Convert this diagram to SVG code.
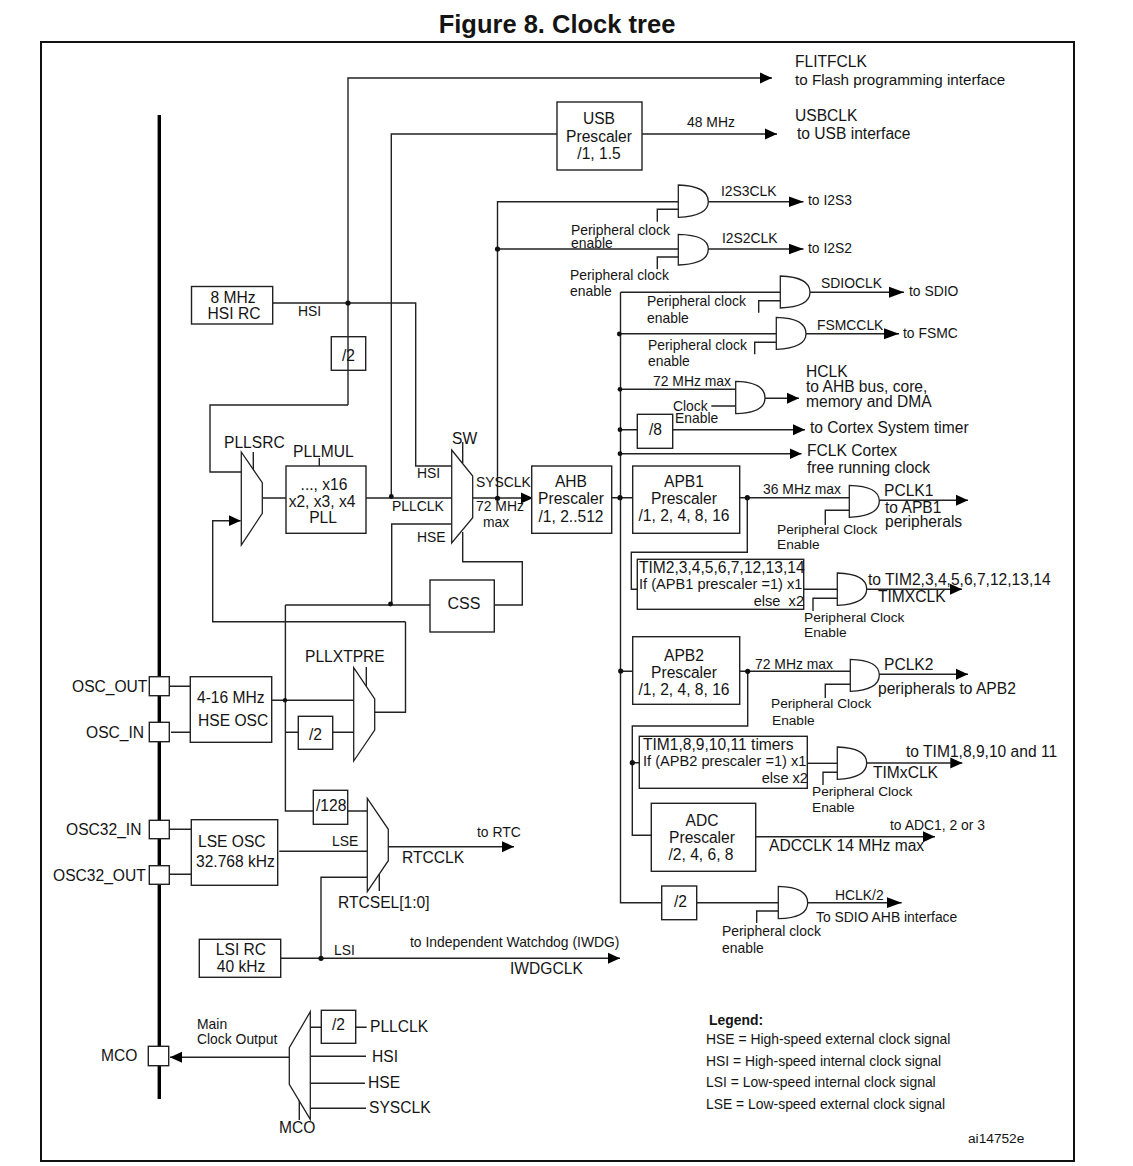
<svg xmlns="http://www.w3.org/2000/svg" width="1133" height="1166" viewBox="0 0 1133 1166">
<style>
text{font-family:"Liberation Sans",Arial,sans-serif;font-size:13.9px;fill:#141414}
.s13{font-size:13.7px}.s14{font-size:14.6px}.s15{font-size:15.6px}.s16{font-size:16px}
.m{text-anchor:middle}
.b{fill:#fff;stroke:#222;stroke-width:1.4}
.g{fill:#fff;stroke:#222;stroke-width:1.3}
.w{fill:none;stroke:#222;stroke-width:1.4}
.a{marker-end:url(#arr)}
.l{marker-end:url(#arl)}
.d{fill:#111}
</style>
<defs>
<marker id="arr" markerUnits="userSpaceOnUse" markerWidth="13" markerHeight="13" refX="12" refY="6.5" orient="auto"><path d="M0 1L12 6.5L0 12Z" fill="#000"/></marker>
<marker id="arl" markerUnits="userSpaceOnUse" markerWidth="16" markerHeight="13" refX="15" refY="6.5" orient="auto"><path d="M0 1L15 6.5L0 12Z" fill="#000"/></marker>
</defs>
<rect width="1133" height="1166" fill="#fff"/>
<text x="557" y="33" class="m" style="font-size:25.5px;font-weight:bold">Figure 8. Clock tree</text>
<rect x="41" y="42" width="1033" height="1119" fill="none" stroke="#111" stroke-width="2"/>
<g id="connectors">
<path class="w" style="stroke:#000;stroke-width:3.4" d="M159.3 115V1099"/>
<path class="w a" d="M348 405V78H772"/>
<path class="w a" d="M391.3 497V134H557M642 134H777"/>
<path class="w" d="M272.7 303H415.7V466H451.5"/>
<path class="w" d="M348 405H210V472H241.3"/>
<path class="w a" d="M405.5 621.7H212.7V520.7H240.7"/>
<path class="w" d="M405.5 621.7V712.3H375"/>
<path class="w" d="M262.3 498H286M366 498H451.7"/>
<path class="w" d="M253.3 452V470M319.3 458V466M462.7 442V463M366.3 667V690M379.3 873V891"/>
<path class="w" d="M451.7 524H391.7V605M285.4 605H430M494.3 605H522.3V561.7H462.7V532"/>
<path class="w a" d="M473 498H533"/>
<path class="w" d="M497.5 498V201.7H678.3M497.5 249H678.3"/>
<path class="w l" d="M708 201.7H803.5"/>
<path class="w l" d="M708 249H803.5"/>
<path class="w" d="M678.3 209.3H657.3V221.7M678.3 257H657.3V269.3"/>
<path class="w" d="M620.5 292.3V902.7H661.7M780 292.3H620.5M776 333.7H620.5M735.7 389.3H620.5M637.3 429.7H620.5M611.7 497.7H632.7M620.5 671.3H632.7"/>
<path class="w l" d="M810 292.3H904"/>
<path class="w l" d="M806 333.7H899"/>
<path class="w a" d="M765 398.3H799"/>
<path class="w a" d="M672.7 429.7H805"/>
<path class="w a" d="M620.5 453.7H801.5"/>
<path class="w" d="M780.3 300.7H758.7V312.7M776.3 342.3H754.7V354.3M711.3 406H735.7"/>
<path class="w" d="M739.7 497.7H849.3M747.3 497.7V552.3H631.3V589.3H637.3"/>
<path class="w a" d="M879 500.3H968"/>
<path class="w" d="M849.3 510.3H825.3V525"/>
<path class="w" d="M803.7 589.3H837.3"/>
<path class="w a" d="M866.7 589.3H962"/>
<path class="w" d="M837.3 598.3H813V611"/>
<path class="w" d="M739.7 671.3H850.3M747.7 671.3V726H632.3V835.3H651.3M632.3 762.7H640"/>
<path class="w a" d="M879 674.3H968"/>
<path class="w" d="M850.3 684.3H825.3V698"/>
<path class="w" d="M807.3 763.3H837.3"/>
<path class="w a" d="M866.7 763H962.3"/>
<path class="w" d="M837.3 772.3H823V785"/>
<path class="w a" d="M755.7 836.7H935"/>
<path class="w" d="M696.7 902.7H778.3"/>
<path class="w l" d="M807.7 902.7H901.7"/>
<path class="w" d="M778.3 911H756.7V923"/>
<path class="w" d="M169.3 686.3H190.3M171 732.3H191M169.3 829.3H191.3M169.3 874.3H191.3"/>
<path class="w" d="M271.7 700.3H355M285.4 605V811H313.3M285.4 732.3H298.3M332.7 732.3H355"/>
<path class="w" d="M347.7 811H367.3M279.3 851.3H367.3M367.3 877.3H321V958.3"/>
<path class="w a" d="M388.3 846.7H514"/>
<path class="w a" d="M280.7 958.3H620"/>
<path class="w" d="M310.3 1027.3H321.3M355.7 1027.3H366.7M310.3 1056.3H366M310.3 1083.3H365M310.3 1108.3H366M299.3 1100V1120"/>
<path class="w a" d="M289 1057.3H170"/>
</g>
<g id="junctions" class="d">
<circle cx="348" cy="303" r="2.6"/><circle cx="391.3" cy="496.5" r="2.4"/><circle cx="390.5" cy="604" r="2.4"/>
<circle cx="497.5" cy="498.3" r="2.6"/><circle cx="497.5" cy="249" r="2.6"/>
<circle cx="619.3" cy="334" r="2.4"/><circle cx="620" cy="389.3" r="2.4"/><circle cx="620" cy="429.7" r="2.4"/><circle cx="620" cy="453.7" r="2.4"/><circle cx="620" cy="497.7" r="2.6"/><circle cx="620.7" cy="671" r="2.6"/>
<circle cx="747.3" cy="497.7" r="2.6"/><circle cx="747.7" cy="671.3" r="2.6"/><circle cx="632.3" cy="762.7" r="2.6"/>
<circle cx="285" cy="700.3" r="2.2"/><circle cx="321" cy="958.3" r="2.6"/>
</g>
<g id="hsi-rc"><rect class="b" x="191.5" y="286.5" width="81.2" height="37.5"/><text class="s15 m" x="233" y="303">8 MHz</text><text class="s15 m" x="234" y="319">HSI RC</text></g>
<text x="298" y="316">HSI</text>
<g id="div2-hsi"><rect class="w" x="331.3" y="336.7" width="34.4" height="33.6"/><text class="s15" x="342" y="361">/2</text></g>
<g id="pllsrc"><path class="g" d="M241.3 452L262.3 482.7V513.3L241.3 545Z"/><text class="s15" x="224" y="448">PLLSRC</text></g>
<g id="pll"><rect class="b" x="286" y="466" width="80" height="67.3"/><text class="s15 m" x="324" y="490">..., x16</text><text class="s15 m" x="322" y="507">x2, x3, x4</text><text class="s15 m" x="323" y="523">PLL</text><text class="s15" x="293" y="457">PLLMUL</text></g>
<g id="sw"><path class="g" d="M451.7 450L472.7 476V517.7L451.7 543Z"/><text class="s15" x="452" y="444">SW</text><text x="417" y="478">HSI</text><text x="392" y="511">PLLCLK</text><text x="417" y="542">HSE</text></g>
<text x="476" y="487">SYSCLK</text><text x="476" y="511">72 MHz</text><text x="483" y="527">max</text>
<g id="ahb"><rect class="b" x="531.7" y="466" width="80" height="67.3"/><text class="s15 m" x="571" y="487">AHB</text><text class="s15 m" x="571" y="504">Prescaler</text><text class="s15 m" x="571" y="522">/1, 2..512</text></g>
<g id="css"><rect class="b" x="430" y="580" width="64.3" height="52"/><text class="s16 m" x="464" y="609">CSS</text></g>
<g id="flit"><text class="s15" x="795" y="67">FLITFCLK</text><text x="795" y="85" style="font-size:15.2px">to Flash programming interface</text></g>
<g id="usb"><rect class="b" x="557" y="102" width="85" height="68"/><text class="s15 m" x="599" y="124">USB</text><text class="s15 m" x="599" y="142">Prescaler</text><text class="s15 m" x="599" y="159">/1, 1.5</text><text x="687" y="127">48 MHz</text><text class="s15" x="795" y="121">USBCLK</text><text class="s15" x="797" y="139">to USB interface</text></g>
<g id="i2s3"><path class="g" d="M678.3 185Q708.3 186 708.3 201.7Q708.3 216 678.3 217.3Z"/><text x="721" y="196">I2S3CLK</text><text x="808" y="205">to I2S3</text><text x="571" y="235">Peripheral clock</text><text x="571" y="248">enable</text></g>
<g id="i2s2"><path class="g" d="M678.3 234.3Q708.3 235 708.3 249Q708.3 264 678.3 265Z"/><text x="722" y="243">I2S2CLK</text><text x="808" y="253">to I2S2</text><text x="570" y="280">Peripheral clock</text><text x="570" y="296">enable</text></g>
<g id="sdio"><path class="g" d="M780.3 276Q810 277 810 292.3Q810 307 780.3 308Z"/><text x="821" y="288">SDIOCLK</text><text x="909" y="296">to SDIO</text><text x="647" y="306">Peripheral clock</text><text x="647" y="323">enable</text></g>
<g id="fsmc"><path class="g" d="M776.3 317.3Q806 318 806 333.7Q806 348 776.3 349.3Z"/><text x="817" y="330">FSMCCLK</text><text x="903" y="338">to FSMC</text><text x="648" y="350">Peripheral clock</text><text x="648" y="366">enable</text></g>
<g id="hclk"><path class="g" d="M735.7 381.3Q765 382 765 398Q765 413 735.7 413.7Z"/><text x="653" y="386">72 MHz max</text><text x="673" y="411">Clock</text><text x="675" y="423">Enable</text><text class="s15" x="806" y="377">HCLK</text><text class="s15" x="806" y="392">to AHB bus, core,</text><text class="s15" x="806" y="407">memory and DMA</text></g>
<g id="div8"><rect class="w" x="637.3" y="414.3" width="35.4" height="34"/><text class="s15" x="649" y="435">/8</text><text class="s15" x="810" y="433">to Cortex System timer</text></g>
<g id="fclk"><text class="s15" x="807" y="456">FCLK Cortex</text><text class="s15" x="807" y="473">free running clock</text></g>
<g id="apb1"><rect class="b" x="632.7" y="466" width="107" height="67.3"/><text class="s15 m" x="684" y="487">APB1</text><text class="s15 m" x="684" y="504">Prescaler</text><text class="s15 m" x="684" y="521">/1, 2, 4, 8, 16</text></g>
<g id="pclk1"><path class="g" d="M849.3 485.3Q879.3 486 879.3 501Q879.3 516 849.3 517.3Z"/><text x="763" y="494">36 MHz max</text><text class="s15" x="884" y="496">PCLK1</text><text class="s15" x="885" y="513">to APB1</text><text class="s15" x="885" y="527">peripherals</text><text class="s13" x="777" y="534">Peripheral Clock</text><text class="s13" x="777" y="549">Enable</text></g>
<g id="tim2"><rect class="w" x="637.3" y="559.3" width="166.4" height="50"/><text class="s15" x="639" y="573">TIM2,3,4,5,6,7,12,13,14</text><text class="s14" x="639" y="589">If (APB1 prescaler =1) x1</text><text class="s14" x="804" y="606" text-anchor="end" xml:space="preserve">else  x2</text></g>
<g id="timx"><path class="g" d="M837.3 573Q866.7 574 866.7 589Q866.7 604 837.3 605.3Z"/><text class="s15" x="868" y="585">to TIM2,3,4,5,6,7,12,13,14</text><text class="s15" x="878" y="602">TIMXCLK</text><text class="s13" x="804" y="622">Peripheral Clock</text><text class="s13" x="804" y="637">Enable</text></g>
<g id="apb2"><rect class="b" x="632.7" y="636.7" width="107" height="67.6"/><text class="s15 m" x="684" y="661">APB2</text><text class="s15 m" x="684" y="678">Prescaler</text><text class="s15 m" x="684" y="695">/1, 2, 4, 8, 16</text></g>
<g id="pclk2"><path class="g" d="M850.3 659.3Q879.3 660 879.3 675Q879.3 690 850.3 691.3Z"/><text x="755" y="669">72 MHz max</text><text class="s15" x="884" y="670">PCLK2</text><text class="s15" x="878" y="694">peripherals to APB2</text><text class="s13" x="771" y="708">Peripheral Clock</text><text class="s13" x="772" y="725">Enable</text></g>
<g id="tim1"><rect class="w" x="639.3" y="736.3" width="168" height="52"/><text class="s15" x="643" y="750">TIM1,8,9,10,11 timers</text><text class="s14" x="643" y="766">If (APB2 prescaler =1) x1</text><text class="s14" x="808" y="783" text-anchor="end">else x2</text></g>
<g id="timx2"><path class="g" d="M837.3 747Q866.7 748 866.7 763Q866.7 778 837.3 779.3Z"/><text class="s15" x="906" y="757">to TIM1,8,9,10 and 11</text><text class="s15" x="873" y="778">TIMxCLK</text><text class="s13" x="812" y="796">Peripheral Clock</text><text class="s13" x="812" y="812">Enable</text></g>
<g id="adc"><rect class="b" x="651.3" y="803.3" width="104.4" height="68"/><text class="s15 m" x="702" y="826">ADC</text><text class="s15 m" x="702" y="843">Prescaler</text><text class="s15 m" x="701" y="860">/2, 4, 6, 8</text><text x="890" y="830">to ADC1, 2 or 3</text><text class="s15" x="769" y="851">ADCCLK 14 MHz max</text></g>
<g id="hclk2"><rect class="b" x="661.7" y="886" width="35" height="33.7"/><text class="s15" x="674" y="907">/2</text><path class="g" d="M778.3 886.3Q807.7 887 807.7 902.7Q807.7 918 778.3 918.7Z"/><text x="835" y="900">HCLK/2</text><text x="816" y="922">To SDIO AHB interface</text><text x="722" y="936">Peripheral clock</text><text x="722" y="953">enable</text></g>
<g id="osc-out"><rect class="b" x="149.3" y="676.7" width="20" height="19"/><text class="s15" x="72" y="692">OSC_OUT</text></g>
<g id="osc-in"><rect class="b" x="149.3" y="722.3" width="20" height="19.4"/><text class="s15" x="86" y="738">OSC_IN</text></g>
<g id="osc32-in"><rect class="b" x="149.3" y="820.3" width="20" height="18.4"/><text class="s15" x="66" y="835">OSC32_IN</text></g>
<g id="osc32-out"><rect class="b" x="149.3" y="865.7" width="20" height="18.6"/><text class="s15" x="53" y="881">OSC32_OUT</text></g>
<g id="mco-pin"><rect class="b" x="148.3" y="1046.3" width="20.4" height="19.4"/><text class="s15" x="101" y="1061">MCO</text></g>
<g id="hse"><rect class="b" x="190.3" y="676.7" width="81.4" height="65.6"/><text class="s15" x="197" y="703">4-16 MHz</text><text class="s15" x="198" y="726">HSE OSC</text></g>
<g id="pllxtpre"><path class="g" d="M353.7 667.7L374.7 699V730L353.7 761Z"/><text class="s15" x="305" y="662">PLLXTPRE</text></g>
<g id="div2-hse"><rect class="w" x="298.3" y="716.3" width="34.4" height="33"/><text class="s15" x="309" y="740">/2</text></g>
<g id="div128"><rect class="w" x="313.3" y="790.3" width="34.4" height="34"/><text class="s15" x="316" y="811">/128</text></g>
<g id="rtc"><path class="g" d="M367.3 798.3L388.3 829.3V860.7L367.3 891.7Z"/><text x="332" y="846">LSE</text><text x="477" y="837">to RTC</text><text class="s15" x="402" y="863">RTCCLK</text><text class="s15" x="338" y="908">RTCSEL[1:0]</text></g>
<g id="lse"><rect class="b" x="191.3" y="819.7" width="86.4" height="65.6"/><text class="s15" x="198" y="847">LSE OSC</text><text class="s15" x="196" y="867">32.768 kHz</text></g>
<g id="lsi"><rect class="b" x="199.3" y="939.3" width="81.4" height="38"/><text class="s15 m" x="241" y="955">LSI RC</text><text class="s15 m" x="241" y="972">40 kHz</text><text x="334" y="955">LSI</text><text x="410" y="947">to Independent Watchdog (IWDG)</text><text class="s15" x="510" y="974">IWDGCLK</text></g>
<g id="mco"><path class="g" d="M310.3 1011.7V1119.3L289.3 1084.3V1047.7Z"/><rect class="w" x="321.3" y="1010.3" width="34.4" height="33"/><text class="s15" x="332" y="1030">/2</text><text class="s15" x="370" y="1032">PLLCLK</text><text class="s15" x="372" y="1062">HSI</text><text class="s15" x="368" y="1088">HSE</text><text class="s15" x="369" y="1113">SYSCLK</text><text class="s15" x="279" y="1133">MCO</text><text x="197" y="1029">Main</text><text x="197" y="1044">Clock Output</text></g>
<g id="legend"><text x="709" y="1025" style="font-weight:bold">Legend:</text><text x="706" y="1044">HSE = High-speed external clock signal</text><text x="706" y="1066">HSI = High-speed internal clock signal</text><text x="706" y="1087">LSI = Low-speed internal clock signal</text><text x="706" y="1109">LSE = Low-speed external clock signal</text><text class="s13" x="968" y="1143">ai14752e</text></g>
</svg>
